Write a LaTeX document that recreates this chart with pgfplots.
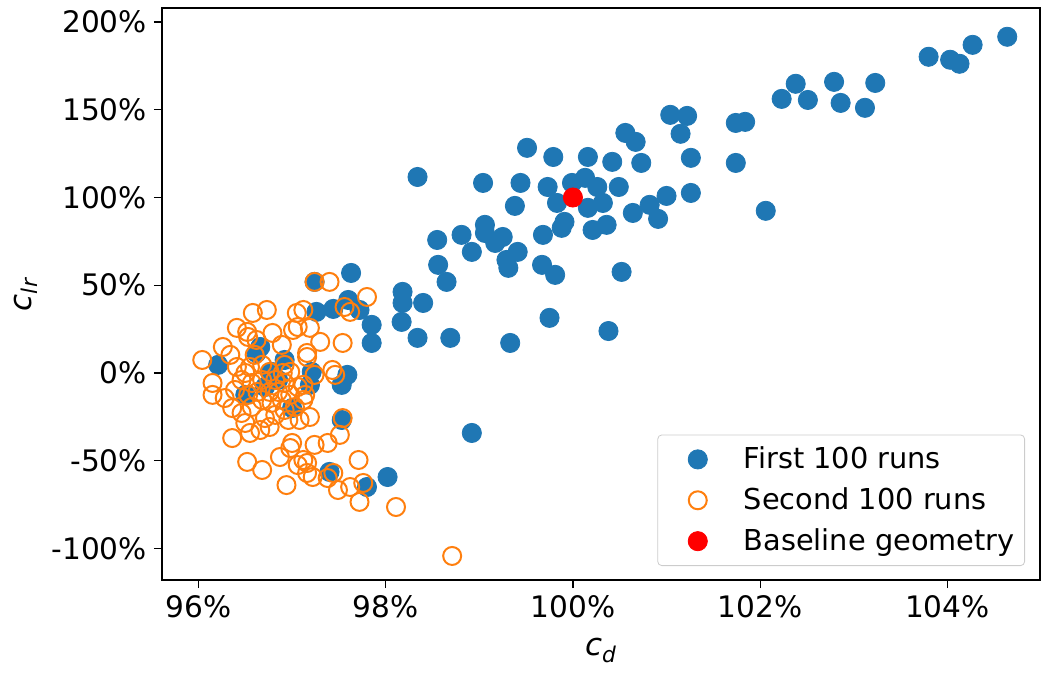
\documentclass[border=0pt]{standalone}
\usepackage{pgfplots}
\pgfplotsset{compat=1.18}
\usepackage{fontspec}
\setmainfont{DejaVu Sans}
\definecolor{c0}{HTML}{1F77B4}
\definecolor{c1}{HTML}{FF7F0E}
\begin{document}
\begin{tikzpicture}
\useasboundingbox (-81pt,-47.5pt) rectangle (444pt,290pt);
\begin{axis}[
  at={(0pt,0pt)}, anchor=south west,
  scale only axis, width=439pt, height=286pt,
  xmin=95.61, xmax=104.99, ymin=-118, ymax=208,
  xtick={96,98,100,102,104},
  ytick={-100,-50,0,50,100,150,200},
  /pgf/number format/assume math mode=true,
  /pgf/number format/fixed, /pgf/number format/precision=0,
  xticklabel={\pgfmathprintnumber{\tick}\%},
  yticklabel={\pgfmathprintnumber{\tick}\%},
  tick align=outside, tick pos=left,
  major tick length=4pt,
  every tick/.style={black, line width=0.6pt},
  axis line style={black, line width=0.8pt},
  ticklabel style={font=\fontsize{14.8}{17}\selectfont},
  label style={font=\fontsize{15.5}{18}\selectfont},
  xlabel style={yshift=-3.5pt},
  xlabel={\textit{c}\textsubscript{\textit{d}}},
  ylabel={\textit{c}\textsubscript{\textit{lr}}},
  legend style={at={(rel axis cs:1,0)}, anchor=south east, xshift=-7.5pt, yshift=7pt,
    draw=black!20, rounded corners=2pt, font=\fontsize{14.4}{17}\selectfont,
    row sep=4pt, inner xsep=3pt, inner ysep=4pt},
  legend cell align=left,
  legend image code/.code={\path[mark repeat=2,mark phase=2,#1] plot coordinates {(0pt,0pt)(17pt,0pt)(38pt,0pt)};},
]
\addplot[draw=none, mark=*, mark size=4.8pt, mark options={draw=c0, fill=c0, line width=0.4pt}] coordinates {
(104.64,191.6) (104.27,187.0) (104.13,176.2) (104.03,178.5) (103.80,180.2)
(103.23,165.3) (102.79,165.9) (102.86,153.9) (103.12,151.1) (102.38,164.8)
(102.23,156.2) (102.51,155.6) (101.84,143.1) (101.74,142.5) (101.04,147.1)
(101.22,146.5) (101.15,136.3) (101.26,122.6) (101.74,119.7) (101.00,100.9)
(101.26,102.6) (102.06,92.4) (100.91,87.8) (100.82,95.8)
(99.51,128.3) (99.79,123.1) (100.16,123.1) (100.42,120.3) (100.56,136.8)
(100.67,131.7) (100.73,119.7) (98.34,111.7) (99.04,108.3) (99.44,108.3)
(99.73,106.0) (99.99,108.3) (100.13,111.2) (100.26,106.0) (100.49,106.0)
(99.83,96.9) (100.16,94.1) (100.32,96.9) (99.38,95.2) (100.64,91.2)
(100.36,84.4) (100.21,81.5) (99.91,86.1) (99.88,82.7) (99.68,78.7)
(99.06,84.4) (99.06,79.8) (99.25,77.5) (99.17,74.1) (99.41,69.0)
(99.29,64.4) (99.31,59.9) (99.67,61.6) (99.81,55.9) (98.81,78.7)
(98.92,69.0) (98.55,75.8) (98.56,61.6) (98.65,51.9) (98.18,46.2)
(98.18,39.9) (98.40,39.9) (98.17,29.1) (98.34,20.0) (98.69,20.0)
(99.33,17.1) (99.75,31.4) (100.52,57.6) (100.38,23.9)
(97.63,57.0) (97.24,51.9) (97.60,41.6) (97.44,36.5) (97.26,34.8)
(97.72,35.9) (97.85,27.4) (97.85,17.1) (96.21,4.6) (96.66,14.8)
(96.92,7.4) (97.21,0.6) (97.19,-6.8) (97.59,-1.1) (97.53,-6.8)
(97.53,-26.8) (97.40,-56.4) (97.80,-65.0) (98.02,-59.3) (98.92,-34.2)
(96.62,11.4) (96.78,0.6) (96.71,-8.0) (96.85,-4.0) (96.50,-12.5) (97.00,-20.0)
};
\addlegendentry{First 100 runs}
\addplot[draw=none, mark=o, mark size=4.5pt, mark options={draw=c1, line width=1pt}] coordinates {
(97.40,51.9) (97.24,51.9) (97.80,43.3) (97.56,37.6) (97.62,34.8) (96.58,34.2)
(96.73,35.9) (97.05,34.2) (97.12,35.9) (96.41,25.7) (96.52,23.4)
(97.06,26.2) (97.19,25.7) (97.01,24.5) (96.79,22.8) (96.62,18.8)
(96.89,16.0) (97.30,17.7) (97.54,17.1) (96.26,14.8) (96.04,7.4)
(97.16,11.4) (97.16,9.1) (97.43,1.7) (97.46,-1.1) (96.90,0.0)
(96.41,3.4) (96.55,3.4) (96.15,-5.7) (96.15,-12.5) (97.06,-8.0)
(97.12,-15.4) (97.19,-25.1) (97.54,-25.7) (97.51,-35.3) (96.36,-37.1)
(96.55,-34.2) (96.66,-32.5) (96.76,-30.8) (96.96,-26.8) (97.00,-39.9)
(97.24,-41.0) (97.38,-39.9) (96.87,-47.9) (96.98,-42.8) (96.52,-50.7)
(96.68,-55.3) (97.06,-52.5) (97.16,-51.3) (97.16,-57.0) (97.22,-59.3)
(96.94,-63.9) (97.38,-59.9) (97.49,-66.7) (97.62,-65.0) (97.72,-73.5)
(97.71,-49.6) (97.76,-62.7) (98.11,-76.4) (98.71,-104.3)
(96.39,-9.7) (96.46,-4.0) (96.57,-5.7) (96.68,-4.0) (96.82,-4.0)
(96.92,-5.7) (96.36,-20.0) (96.46,-22.8) (96.57,-19.4) (96.68,-15.4)
(96.78,-17.1) (96.89,-15.4) (96.50,-28.5) (96.71,-25.7) (96.92,-21.1)
(96.53,20.5) (96.68,4.6) (96.92,4.6) (97.12,-6.8) (97.14,-12.5)
(97.03,-19.4) (97.44,-57.0) (97.12,-49.6) (96.76,-10.8) (96.63,-10.8)
(96.53,-12.5) (96.85,-10.8) (96.98,-12.5) (96.28,-14.3) (96.50,0.0)
(96.76,0.6) (96.98,0.6) (96.60,10.3) (96.34,10.3) (97.24,-1.1)
(96.82,-23.9) (97.08,-26.8)
};
\addlegendentry{Second 100 runs}
\addplot[draw=none, mark=*, mark size=4.8pt, mark options={draw=red, fill=red, line width=0.4pt}] coordinates {(100,100)};
\addlegendentry{Baseline geometry}
\end{axis}
\end{tikzpicture}
\end{document}
